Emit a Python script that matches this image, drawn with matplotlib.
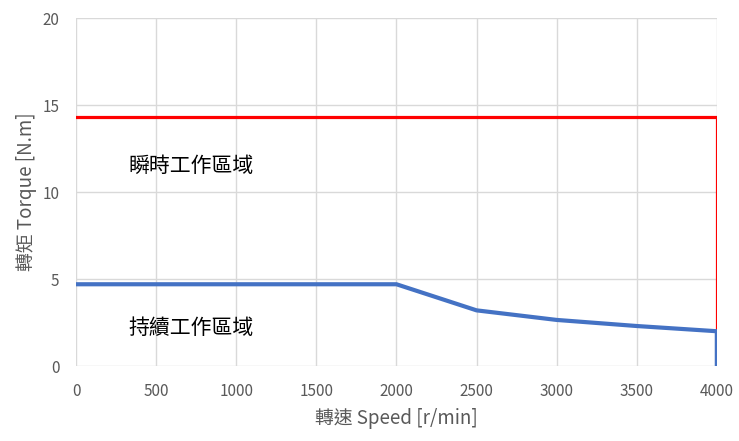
import matplotlib
matplotlib.use('Agg')
import matplotlib.pyplot as plt

plt.rcParams['font.family'] = ['Noto Sans CJK TC', 'DejaVu Sans']

# peak (instantaneous) torque envelope
peak_speed = [0, 4000, 4000]
peak_torque = [14.3, 14.3, 2.0]

# continuous torque curve
cont_speed = [0, 2000, 2500, 3000, 3500, 4000, 4000]
cont_torque = [4.7, 4.7, 3.2, 2.65, 2.3, 2.0, 0]

x_ticks = [0, 500, 1000, 1500, 2000, 2500, 3000, 3500, 4000]
y_ticks = [0, 5, 10, 15, 20]

fig = plt.figure(figsize=(7.39, 4.41), dpi=100)
ax = fig.add_axes([0.103, 0.170, 0.867, 0.789])

ax.plot(peak_speed, peak_torque, color='#ff0000', lw=2.3, solid_joinstyle='miter')
ax.plot(cont_speed, cont_torque, color='#4472c4', lw=3, solid_joinstyle='miter')

ax.text(720, 11.5, '瞬時工作區域', ha='center', va='center', fontsize=15, color='black')
ax.text(720, 2.2, '持續工作區域', ha='center', va='center', fontsize=15, color='black')

ax.set_xlim(0, 4000)
ax.set_ylim(0, 20)
ax.set_xticks(x_ticks)
ax.set_yticks(y_ticks)
ax.grid(True, color='#d9d9d9', lw=1)
ax.set_axisbelow(True)
for s in ax.spines.values():
    s.set_visible(False)
ax.tick_params(length=0, colors='#595959', labelsize=11, pad=12)

ax.set_xlabel('轉速 Speed [r/min]', fontsize=13.5, color='#595959', labelpad=6)
ax.set_ylabel('轉矩 Torque [N.m]', fontsize=13.5, color='#595959', labelpad=4)

plt.savefig('out.png', dpi=100)
